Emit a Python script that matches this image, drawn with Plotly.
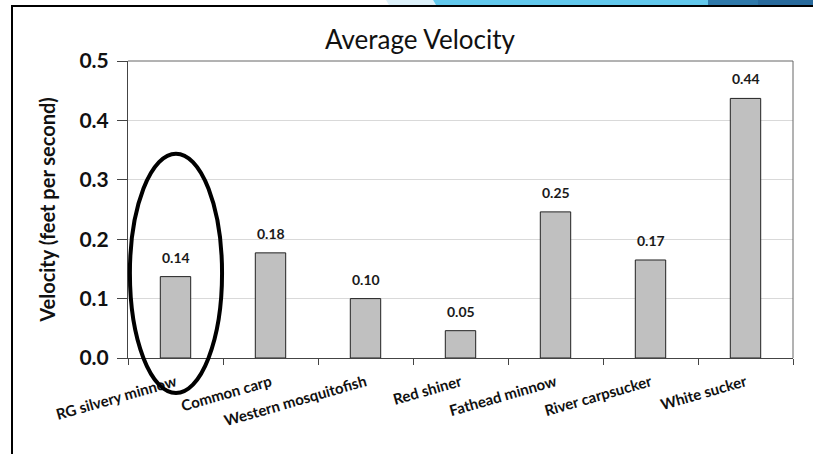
import plotly.graph_objects as go

categories = ["RG silvery minnow", "Common carp", "Western mosquitofish", "Red shiner",
              "Fathead minnow", "River carpsucker", "White sucker"]
velocity = [0.137, 0.177, 0.100, 0.046, 0.246, 0.165, 0.437]
y_ticks = [0.0, 0.1, 0.2, 0.3, 0.4, 0.5]
y_tick_labels = ["0.0", "0.1", "0.2", "0.3", "0.4", "0.5"]

W, H = 813, 454
L, R, T, B = 128, 20, 61, 96
FONT = "Lato"
Y_MAX = 0.5


def px2x(px):
    return (px - L) / (W - L - R)


def py2y(py):
    return (H - B - py) / (H - T - B)


fig = go.Figure()
fig.add_trace(go.Bar(
    x=categories, y=velocity, width=0.32,
    marker=dict(color="#C0C0C0", line=dict(color="#222222", width=1)),
    hoverinfo="x+y",
))

annotations = []
for c, v in zip(categories, velocity):
    annotations.append(dict(x=c, y=v, text=f"<b>{v:.2f}</b>", showarrow=False,
                            yanchor="bottom", yshift=9,
                            font=dict(family=FONT, size=14, color="#1a1a1a")))
annotations.append(dict(xref="paper", yref="paper", x=px2x(420), y=py2y(39),
                        text="Average Velocity", showarrow=False,
                        xanchor="center", yanchor="middle",
                        font=dict(family=FONT, size=26, color="#111111")))

n = len(categories)


def cat2paper(xi):
    return (xi + 0.5) / n


shapes = [
    # outer frame lines
    dict(type="line", xref="paper", yref="paper", x0=px2x(11), x1=px2x(813),
         y0=py2y(6), y1=py2y(6), line=dict(color="#000000", width=2)),
    dict(type="line", xref="paper", yref="paper", x0=px2x(12), x1=px2x(12),
         y0=py2y(6), y1=py2y(454), line=dict(color="#000000", width=2)),
    # decoration top right
    dict(type="path", xref="paper", yref="paper",
         path=f"M {px2x(386)},{py2y(0)} L {px2x(433)},{py2y(0)} L {px2x(436)},{py2y(5)} L {px2x(389)},{py2y(5)} Z",
         fillcolor="#DDF1FA", line=dict(width=0), layer="below"),
    dict(type="path", xref="paper", yref="paper",
         path=f"M {px2x(433)},{py2y(0)} L {px2x(708)},{py2y(0)} L {px2x(708)},{py2y(5)} L {px2x(436)},{py2y(5)} Z",
         fillcolor="#62C8EC", line=dict(width=0), layer="below"),
    dict(type="rect", xref="paper", yref="paper", x0=px2x(708), x1=px2x(758),
         y0=py2y(0), y1=py2y(5), fillcolor="#2F79AA", line=dict(width=0), layer="below"),
    dict(type="rect", xref="paper", yref="paper", x0=px2x(758), x1=px2x(813),
         y0=py2y(0), y1=py2y(5), fillcolor="#286A9C", line=dict(width=0), layer="below"),
    # plot area border (top & right)
    dict(type="line", xref="paper", yref="paper", x0=0, x1=1, y0=1, y1=1,
         line=dict(color="#666666", width=1)),
    dict(type="line", xref="paper", yref="paper", x0=1, x1=1, y0=0, y1=1,
         line=dict(color="#666666", width=1)),
    # highlight ellipse around the first category (paper coords so it is not clipped)
    dict(type="circle", xref="paper", yref="paper",
         x0=cat2paper(-0.48), x1=cat2paper(0.49),
         y0=-0.059 / Y_MAX, y1=0.344 / Y_MAX,
         line=dict(color="#000000", width=4), layer="above"),
]

fig.update_layout(
    width=W, height=H,
    margin=dict(l=L, r=R, t=T, b=B, pad=0),
    paper_bgcolor="white", plot_bgcolor="white",
    showlegend=False, bargap=0.68,
    font=dict(family=FONT, color="#111111"),
    annotations=annotations, shapes=shapes,
    xaxis=dict(
        type="category", tickangle=-16, showgrid=False,
        tickson="boundaries", ticks="outside", ticklen=6, tickcolor="#444444",
        showline=True, linecolor="#444444", linewidth=1,
        tickfont=dict(family=FONT, size=15, color="#111111", weight="bold"),
        ticklabelstandoff=9,
        range=[-0.5, 6.5],
    ),
    yaxis=dict(
        range=[0, Y_MAX], tickvals=y_ticks, ticktext=y_tick_labels,
        ticks="outside", ticklen=10, tickcolor="#444444",
        showline=True, linecolor="#444444", linewidth=1,
        showgrid=True, gridcolor="#D9D9D9", gridwidth=1, zeroline=False,
        tickfont=dict(family=FONT, size=21, color="#111111", weight="bold"),
        ticklabelstandoff=4,
        title=dict(text="Velocity (feet per second)", standoff=18,
                   font=dict(family=FONT, size=20, color="#111111", weight="bold")),
    ),
)

fig.write_html("out.html")
